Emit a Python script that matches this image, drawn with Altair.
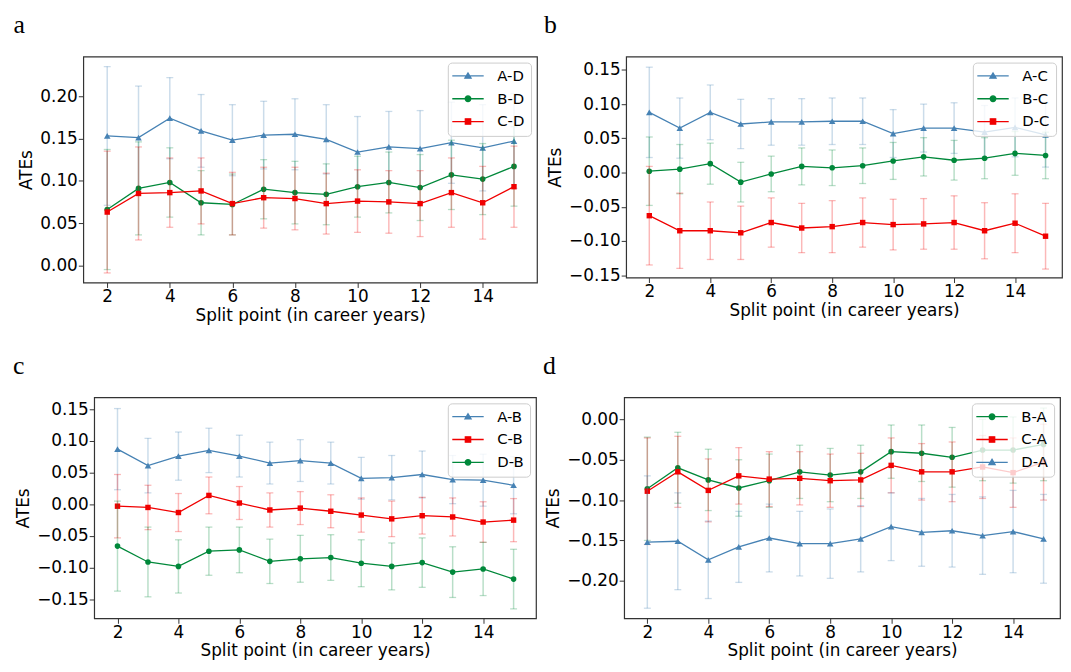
import altair as alt
import pandas as pd

years = list(range(2, 16))
panel_letters = ["a", "b", "c", "d"]

# ---- panel a : reference D ----
a_AD = [0.153, 0.151, 0.174, 0.159, 0.148, 0.154, 0.155, 0.149, 0.134, 0.140, 0.138, 0.145, 0.139, 0.147]
a_AD_err = [0.082, 0.061, 0.048, 0.043, 0.042, 0.040, 0.042, 0.041, 0.042, 0.042, 0.045, 0.048, 0.051, 0.056]
a_BD = [0.066, 0.091, 0.098, 0.074, 0.072, 0.090, 0.086, 0.084, 0.093, 0.098, 0.092, 0.107, 0.102, 0.117]
a_BD_err = [0.071, 0.055, 0.041, 0.038, 0.036, 0.035, 0.037, 0.036, 0.036, 0.036, 0.039, 0.041, 0.042, 0.047]
a_CD = [0.063, 0.085, 0.086, 0.088, 0.073, 0.080, 0.079, 0.073, 0.076, 0.075, 0.073, 0.086, 0.074, 0.093]
a_CD_err = [0.072, 0.055, 0.041, 0.039, 0.037, 0.036, 0.037, 0.036, 0.037, 0.037, 0.039, 0.041, 0.043, 0.048]

# ---- panel b : reference C ----
b_AC = [0.088, 0.065, 0.088, 0.071, 0.074, 0.074, 0.075, 0.075, 0.057, 0.065, 0.065, 0.059, 0.066, 0.055]
b_AC_err = [0.066, 0.044, 0.040, 0.036, 0.034, 0.034, 0.034, 0.034, 0.035, 0.035, 0.037, 0.039, 0.043, 0.047]
b_BC = [0.002, 0.005, 0.013, -0.014, -0.002, 0.009, 0.007, 0.010, 0.017, 0.023, 0.018, 0.021, 0.028, 0.025]
b_BC_err = [0.050, 0.036, 0.030, 0.029, 0.026, 0.027, 0.026, 0.026, 0.027, 0.028, 0.029, 0.030, 0.032, 0.034]
b_DC = [-0.063, -0.085, -0.085, -0.088, -0.073, -0.081, -0.079, -0.073, -0.076, -0.075, -0.073, -0.085, -0.074, -0.093]
b_DC_err = [0.072, 0.055, 0.042, 0.039, 0.036, 0.036, 0.038, 0.036, 0.037, 0.037, 0.039, 0.041, 0.043, 0.048]

# ---- panel c : reference B ----
c_AB = [0.087, 0.061, 0.076, 0.085, 0.076, 0.065, 0.069, 0.065, 0.041, 0.042, 0.047, 0.039, 0.038, 0.030]
c_AB_err = [0.064, 0.043, 0.038, 0.035, 0.033, 0.033, 0.033, 0.033, 0.033, 0.035, 0.037, 0.038, 0.041, 0.045]
c_CB = [-0.003, -0.005, -0.013, 0.014, 0.002, -0.009, -0.006, -0.011, -0.017, -0.023, -0.018, -0.020, -0.028, -0.025]
c_CB_err = [0.050, 0.035, 0.030, 0.029, 0.026, 0.027, 0.026, 0.026, 0.027, 0.028, 0.029, 0.030, 0.032, 0.034]
c_DB = [-0.066, -0.091, -0.098, -0.074, -0.072, -0.090, -0.086, -0.084, -0.093, -0.098, -0.092, -0.107, -0.102, -0.118]
c_DB_err = [0.071, 0.055, 0.042, 0.038, 0.036, 0.035, 0.037, 0.036, 0.037, 0.037, 0.039, 0.040, 0.042, 0.047]

# ---- panel d : reference A ----
d_BA = [-0.086, -0.060, -0.075, -0.085, -0.076, -0.065, -0.069, -0.065, -0.040, -0.042, -0.047, -0.038, -0.038, -0.031]
d_BA_err = [0.064, 0.044, 0.038, 0.035, 0.033, 0.033, 0.033, 0.033, 0.033, 0.035, 0.037, 0.038, 0.041, 0.045]
d_CA = [-0.089, -0.065, -0.088, -0.070, -0.074, -0.073, -0.076, -0.075, -0.057, -0.065, -0.065, -0.059, -0.066, -0.053]
d_CA_err = [0.066, 0.044, 0.039, 0.035, 0.034, 0.033, 0.033, 0.033, 0.034, 0.035, 0.037, 0.039, 0.043, 0.047]
d_DA = [-0.152, -0.151, -0.174, -0.158, -0.147, -0.154, -0.154, -0.148, -0.133, -0.140, -0.138, -0.144, -0.139, -0.148]
d_DA_err = [0.082, 0.060, 0.048, 0.044, 0.042, 0.040, 0.043, 0.041, 0.042, 0.042, 0.045, 0.048, 0.051, 0.055]

x_ticks = [2, 4, 6, 8, 10, 12, 14]
a_yticks = [0.0, 0.05, 0.10, 0.15, 0.20]
bc_yticks = [-0.15, -0.10, -0.05, 0.0, 0.05, 0.10, 0.15]
d_yticks = [-0.20, -0.15, -0.10, -0.05, 0.0]

BLUE = "#4682b4"
GREEN = "#00883a"
RED = "#f00000"
FRAME = "#333333"

# marker styles: (vega shape, size, legend path)
TRI = ("triangle-up", 44, "M-3.17,0H3.17M-0.62,0.45L0,-0.6L0.62,0.45Z")
CIR = ("circle", 32, "M-3.17,0H3.17M-0.56,0A0.56,0.56,0,1,0,0.56,0A0.56,0.56,0,1,0,-0.56,0Z")
SQR = ("square", 30, "M-3.17,0H3.17M-0.54,-0.54H0.54V0.54H-0.54Z")

FONT = "DejaVu Sans"


def panel(letter, letter_dx, series, ydom, yticks, width, height, xdom):
    xaxis = alt.Axis(values=x_ticks, format="d", grid=False, domain=False, tickSize=5,
                     tickColor=FRAME, labelFontSize=17, labelFont=FONT, labelColor="black",
                     labelPadding=1, titleFontSize=17, titleFont=FONT, titleFontWeight="normal",
                     titleColor="black", titlePadding=3, labelFlush=False, labelOverlap=False)
    yaxis = alt.Axis(values=yticks, format=".2f", grid=False, domain=False, tickSize=5,
                     tickColor=FRAME, labelFontSize=17, labelFont=FONT, labelColor="black",
                     labelPadding=1, titleFontSize=17, titleFont=FONT, titleFontWeight="normal",
                     titleColor="black", titlePadding=4, labelFlush=False, labelOverlap=False)
    xs = alt.Scale(domain=xdom, nice=False, zero=False)
    ys = alt.Scale(domain=ydom, nice=False, zero=False)
    X = alt.X("x:Q", scale=xs, axis=xaxis, title="Split point (in career years)")
    Y = alt.Y("y:Q", scale=ys, axis=yaxis, title="ATEs")
    layers = []
    names, colors, paths = [], [], []
    for name, vals, errs, color, style in series:
        names.append(name)
        colors.append(color)
        paths.append(style[2])
        df = pd.DataFrame({"x": years, "y": vals, "err": errs})
        base = alt.Chart(df).transform_calculate(lo="datum.y - datum.err", hi="datum.y + datum.err")
        rule = base.mark_rule(color=color, opacity=0.28, strokeWidth=1.5).encode(
            x=X, y=alt.Y("lo:Q", scale=ys, axis=yaxis, title="ATEs"), y2="hi:Q")
        cap_lo = base.mark_tick(color=color, opacity=0.28, orient="horizontal", size=7, thickness=1.3).encode(
            x=X, y=alt.Y("lo:Q", scale=ys, axis=yaxis, title="ATEs"))
        cap_hi = base.mark_tick(color=color, opacity=0.28, orient="horizontal", size=7, thickness=1.3).encode(
            x=X, y=alt.Y("hi:Q", scale=ys, axis=yaxis, title="ATEs"))
        line = base.mark_line(color=color, strokeWidth=1.3).encode(x=X, y=Y)
        pts = base.mark_point(shape=style[0], size=style[1], filled=True, color=color, opacity=1).encode(x=X, y=Y)
        layers += [rule, cap_lo, cap_hi, line, pts]

    leg = alt.Legend(title=None, orient="top-right", offset=6, padding=6,
                     fillColor="rgba(255,255,255,0.8)", strokeColor="#cccccc", cornerRadius=4,
                     symbolSize=100, symbolStrokeWidth=1.3, symbolOffset=6.85, labelOffset=22,
                     labelFontSize=15, labelFont=FONT, labelColor="black", rowPadding=7, labelLimit=0)
    leg_df = pd.DataFrame({"series": names})
    legend_layer = alt.Chart(leg_df).mark_point(filled=True, opacity=1).encode(
        fill=alt.Fill("series:N", scale=alt.Scale(domain=names, range=colors), legend=leg),
        stroke=alt.Stroke("series:N", scale=alt.Scale(domain=names, range=colors), legend=leg),
        shape=alt.Shape("series:N", scale=alt.Scale(domain=names, range=paths), legend=leg),
    ).transform_filter("false")
    layers.append(legend_layer)

    letter_layer = alt.Chart(pd.DataFrame({"letter": [letter]})).mark_text(
        font="Liberation Serif", fontSize=26, align="left", baseline="alphabetic", color="black"
    ).encode(text="letter:N", x=alt.value(letter_dx), y=alt.value(-24))
    layers.append(letter_layer)

    return alt.layer(*layers).properties(width=width, height=height)


def spacer():
    return alt.Chart(pd.DataFrame({"v": [0]})).mark_point(size=0.01, opacity=0).encode(
        x=alt.value(0), y=alt.value(0)
    ).properties(width=1, height=1, view=alt.ViewBackground(stroke="transparent"))


pa = panel(panel_letters[0], -70.5,
           [("A-D", a_AD, a_AD_err, BLUE, TRI), ("B-D", a_BD, a_BD_err, GREEN, CIR),
            ("C-D", a_CD, a_CD_err, RED, SQR)],
           [-0.0203, 0.2468], a_yticks, 458, 228, [1.235, 15.735])
pb = panel(panel_letters[1], -83,
           [("A-C", b_AC, b_AC_err, BLUE, TRI), ("B-C", b_BC, b_BC_err, GREEN, CIR),
            ("D-C", b_DC, b_DC_err, RED, SQR)],
           [-0.1534, 0.1694], bc_yticks, 440, 223, [1.24, 15.54])
pc = panel(panel_letters[2], -82,
           [("A-B", c_AB, c_AB_err, BLUE, TRI), ("C-B", c_CB, c_CB_err, RED, SQR),
            ("D-B", c_DB, c_DB_err, GREEN, CIR)],
           [-0.1799, 0.1686], bc_yticks, 446, 223, [1.235, 15.735])
pd_ = panel(panel_letters[3], -82,
            [("B-A", d_BA, d_BA_err, GREEN, CIR), ("C-A", d_CA, d_CA_err, RED, SQR),
             ("D-A", d_DA, d_DA_err, BLUE, TRI)],
            [-0.2465, 0.0272], d_yticks, 440, 223, [1.24, 15.54])

ind = dict(fill="independent", stroke="independent", shape="independent")
row1 = alt.hconcat(spacer(), pa, pb, spacing=5).resolve_scale(**ind).resolve_legend(**ind)
row2 = alt.hconcat(spacer(), pc, pd_, spacing=5).resolve_scale(**ind).resolve_legend(**ind)

chart = alt.vconcat(row1, row2, spacing=28).resolve_scale(**ind).resolve_legend(**ind).properties(
    padding={"left": -4, "top": 0, "right": 0, "bottom": 0}
).configure(background="white").configure_view(stroke=FRAME, strokeWidth=1.2)

chart.save("out.html", embed_options={"renderer": "svg", "actions": False})
